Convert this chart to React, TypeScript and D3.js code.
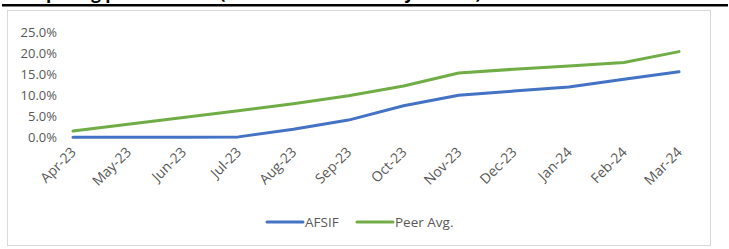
import * as d3 from 'd3';
import { useEffect, useRef } from 'react';

const months = ['Apr-23', 'May-23', 'Jun-23', 'Jul-23', 'Aug-23', 'Sep-23', 'Oct-23', 'Nov-23', 'Dec-23', 'Jan-24', 'Feb-24', 'Mar-24'];
const afsif = [0, 0, 0, 0.001, 0.019, 0.041, 0.075, 0.1, 0.11, 0.12, 0.138, 0.156];
const peerAvg = [0.015, 0.031, 0.047, 0.063, 0.08, 0.099, 0.122, 0.153, 0.162, 0.17, 0.178, 0.204];
const yTicks = [0, 0.05, 0.1, 0.15, 0.2, 0.25];
const seriesNames = ['AFSIF', 'Peer Avg.'];
const colors = ['#4472C4', '#70AD47'];

const FONT = '"Open Sans", "Liberation Sans", Arial, sans-serif';

export default function App() {
    const svgRef = useRef<SVGSVGElement>(null);

    useEffect(() => {
        if (!svgRef.current) return;
        const svg = d3.select(svgRef.current);
        svg.selectAll('*').remove();

        // heading cut off at the top of the page, with its rule
        svg.append('text')
            .attr('x', 8)
            .attr('y', -1)
            .attr('font-family', FONT)
            .attr('font-size', 17)
            .attr('font-weight', 'bold')
            .attr('fill', '#000')
            .text('Comparing performance (cumulative returns by month)');
        svg.append('rect').attr('x', 2).attr('y', 4).attr('width', 726).attr('height', 2.5).attr('fill', '#000');

        svg.append('rect')
            .attr('x', 7.5)
            .attr('y', 10.5)
            .attr('width', 703)
            .attr('height', 235)
            .attr('fill', '#fff')
            .attr('stroke', '#d9d9d9')
            .attr('stroke-width', 1);

        const x = d3.scalePoint<string>().domain(months).range([73, 679]);
        const y = d3.scaleLinear().domain([0, 0.25]).range([137.3, 32.3]);

        const yAxis = svg.append('g');
        yAxis.selectAll('text')
            .data(yTicks)
            .join('text')
            .attr('x', 57)
            .attr('y', (d) => y(d))
            .attr('dy', '0.35em')
            .attr('text-anchor', 'end')
            .attr('font-family', FONT)
            .attr('font-size', 13)
            .attr('fill', '#595959')
            .text((d) => d3.format('.1%')(d));

        const xAxis = svg.append('g');
        xAxis.selectAll('text')
            .data(months)
            .join('text')
            .attr('transform', (d) => `translate(${(x(d) ?? 0) + 4},153) rotate(-45)`)
            .attr('text-anchor', 'end')
            .attr('font-family', FONT)
            .attr('font-size', 14)
            .attr('fill', '#595959')
            .text((d) => d);

        const line = d3
            .line<number>()
            .x((_, i) => x(months[i]) ?? 0)
            .y((d) => y(d));

        [afsif, peerAvg].forEach((s, k) => {
            svg.append('path')
                .datum(s)
                .attr('d', line)
                .attr('fill', 'none')
                .attr('stroke', colors[k])
                .attr('stroke-width', 3)
                .attr('stroke-linejoin', 'round')
                .attr('stroke-linecap', 'round');
        });

        // legend
        const legendX = [267, 357];
        const legend = svg.append('g');
        seriesNames.forEach((name, k) => {
            legend.append('line')
                .attr('x1', legendX[k])
                .attr('x2', legendX[k] + 36)
                .attr('y1', 222)
                .attr('y2', 222)
                .attr('stroke', colors[k])
                .attr('stroke-width', 3)
                .attr('stroke-linecap', 'round');
            legend.append('text')
                .attr('x', legendX[k] + 38)
                .attr('y', 222)
                .attr('dy', '0.35em')
                .attr('font-family', FONT)
                .attr('font-size', 13.5)
                .attr('fill', '#595959')
                .text(name);
        });
    }, []);

    return (
        <svg
            ref={svgRef}
            width={729}
            height={249}
            style={{ position: 'absolute', left: 0, top: 0, background: '#fff' }}
        />
    );
}
